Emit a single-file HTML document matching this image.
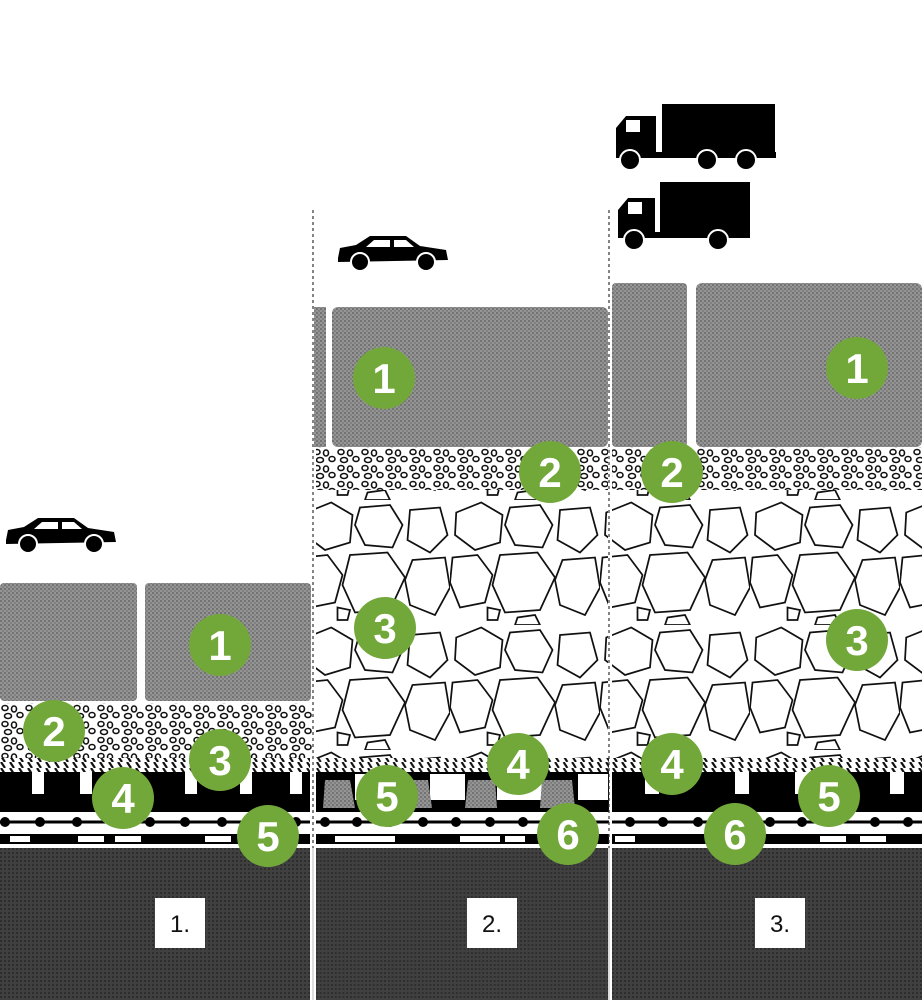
<!DOCTYPE html>
<html><head><meta charset="utf-8"><style>
body{margin:0;background:#fff;}
svg{display:block}
.n{font-family:"Liberation Sans",sans-serif;font-weight:bold}
.l{font-family:"Liberation Sans",sans-serif;font-weight:normal}
</style></head><body>
<svg width="922" height="1000" viewBox="0 0 922 1000" xmlns="http://www.w3.org/2000/svg">
<defs>
<pattern id="paver" width="4" height="4" patternUnits="userSpaceOnUse">
<rect width="4" height="4" fill="#959595"/><rect width="2" height="2" fill="#727272"/><rect x="2" y="2" width="2" height="2" fill="#808080"/>
</pattern>
<pattern id="dark" width="4" height="4" patternUnits="userSpaceOnUse">
<rect width="4" height="4" fill="#404040"/><rect width="2" height="2" fill="#2e2e2e"/>
</pattern>
<pattern id="fine" width="24" height="16" patternUnits="userSpaceOnUse">
<rect width="24" height="16" fill="#fff"/>
<g fill="none" stroke="#111" stroke-width="1.6">
<ellipse cx="5" cy="4" rx="3" ry="2.5"/><ellipse cx="14" cy="5" rx="2.5" ry="3"/><ellipse cx="20" cy="11" rx="3" ry="2.5"/><ellipse cx="8" cy="12" rx="3.5" ry="2.5"/>
</g></pattern>
<pattern id="stones" width="150" height="125" patternUnits="userSpaceOnUse">
<rect width="150" height="125" fill="#fff"/>
<g fill="none" stroke="#111" stroke-width="1.4" transform="scale(1.25)">
<polygon points="5,10 25,2 42,12 40,34 20,40 4,28"/>
<polygon points="48,6 72,4 82,20 74,38 52,36 44,20"/>
<polygon points="88,8 112,6 118,28 104,42 86,32"/>
<polygon points="2,46 22,44 34,60 28,82 8,86 0,66"/>
<polygon points="40,44 70,42 84,62 72,88 44,90 34,68"/>
<polygon points="90,48 116,46 120,70 108,92 88,84 84,64"/>
<polygon points="54,94 68,92 72,100 52,100"/>
<polygon points="30,86 40,88 38,96 30,96"/>
</g></pattern>
<pattern id="hatch" width="9" height="6" patternUnits="userSpaceOnUse">
<rect width="9" height="6" fill="#fff"/><line x1="1" y1="0" x2="5" y2="6" stroke="#111" stroke-width="2.2"/>
</pattern>
<g id="car"><path d="M0,22 L2,12 L18,9 L32,0 L68,0 L82,10 L108,14 L110,24 L0,26 Z" fill="#000"/>
<path d="M36,4 L52,4 L52,11 L28,11 Z M56,4 L68,4 L76,11 L56,11 Z" fill="#fff"/>
<circle cx="22" cy="26" r="9" fill="#000" stroke="#fff" stroke-width="2"/><circle cx="88" cy="26" r="9" fill="#000" stroke="#fff" stroke-width="2"/></g>
<g id="bottom">
<rect x="0" y="758" width="310" height="14" fill="url(#hatch)"/>
<rect x="0" y="772" width="310" height="40" fill="#000"/>
<rect x="0" y="812" width="310" height="36" fill="#fff"/>
<line x1="0" y1="822" x2="310" y2="822" stroke="#000" stroke-width="3"/>
<rect x="0" y="834" width="310" height="10" fill="#000"/>
<rect x="0" y="848" width="310" height="152" fill="url(#dark)"/>
</g>
<g id="g"><circle r="31" fill="#72a83a"/></g>
</defs>

<!-- Panel 1 -->
<rect x="0" y="583" width="137" height="118" rx="4" fill="url(#paver)"/>
<rect x="145" y="583" width="166" height="118" rx="4" fill="url(#paver)"/>
<rect x="0" y="703" width="312" height="56" fill="url(#fine)"/>
<use href="#bottom"/>
<g fill="#fff"><rect x="32" y="772" width="12" height="22"/><rect x="80" y="772" width="12" height="22"/><rect x="185" y="772" width="12" height="22"/><rect x="240" y="772" width="12" height="22"/><rect x="290" y="772" width="12" height="22"/>
<rect x="10" y="836" width="20" height="6"/><rect x="78" y="836" width="26" height="6"/><rect x="115" y="836" width="26" height="6"/><rect x="205" y="836" width="26" height="6"/></g>
<g fill="#000"><circle cx="5" cy="822" r="5"/><circle cx="40" cy="822" r="5"/><circle cx="77" cy="822" r="5"/><circle cx="114" cy="822" r="5"/><circle cx="150" cy="822" r="5"/><circle cx="185" cy="822" r="5"/><circle cx="222" cy="822" r="5"/><circle cx="260" cy="822" r="5"/><circle cx="296" cy="822" r="5"/></g>
<use href="#car" x="6" y="518"/>

<!-- Panel 2 -->
<rect x="314" y="307" width="12" height="140" fill="url(#paver)"/>
<rect x="332" y="307" width="276" height="140" rx="6" fill="url(#paver)"/>
<rect x="316" y="447" width="292" height="50" fill="url(#fine)"/>
<rect x="316" y="490" width="292" height="270" fill="url(#stones)"/>
<use href="#bottom" transform="translate(316,0) scale(0.945,1)"/>
<rect x="316" y="772" width="292" height="40" fill="#000"/>
<g fill="#fff"><rect x="355" y="774" width="50" height="26"/><rect x="430" y="774" width="35" height="26"/><rect x="497" y="774" width="45" height="26"/><rect x="578" y="774" width="30" height="26"/></g>
<g fill="url(#paver)"><polygon points="325,780 350,780 355,808 323,808"/><polygon points="405,780 428,780 432,808 410,808"/><polygon points="468,780 495,780 497,808 465,808"/><polygon points="542,780 572,780 575,808 540,808"/></g>
<g fill="#000"><circle cx="325" cy="822" r="5"/><circle cx="357" cy="822" r="5"/><circle cx="390" cy="822" r="5"/><circle cx="423" cy="822" r="5"/><circle cx="456" cy="822" r="5"/><circle cx="490" cy="822" r="5"/><circle cx="523" cy="822" r="5"/><circle cx="556" cy="822" r="5"/><circle cx="590" cy="822" r="5"/></g>
<g fill="#fff"><rect x="335" y="836" width="40" height="6"/><rect x="375" y="836" width="20" height="6"/><rect x="460" y="836" width="40" height="6"/><rect x="505" y="836" width="20" height="6"/></g>
<use href="#car" x="338" y="236"/>

<!-- Panel 3 -->
<rect x="612" y="283" width="75" height="164" rx="4" fill="url(#paver)"/>
<rect x="696" y="283" width="226" height="164" rx="6" fill="url(#paver)"/>
<rect x="612" y="447" width="310" height="50" fill="url(#fine)"/>
<rect x="612" y="490" width="310" height="270" fill="url(#stones)"/>
<use href="#bottom" transform="translate(612,0)"/>
<g fill="#fff"><rect x="645" y="772" width="14" height="22"/><rect x="735" y="772" width="14" height="22"/><rect x="795" y="772" width="14" height="22"/><rect x="890" y="772" width="14" height="22"/>
<rect x="615" y="836" width="20" height="6"/><rect x="820" y="836" width="26" height="6"/><rect x="860" y="836" width="26" height="6"/></g>
<g fill="#000"><circle cx="630" cy="822" r="5"/><circle cx="663" cy="822" r="5"/><circle cx="698" cy="822" r="5"/><circle cx="770" cy="822" r="5"/><circle cx="802" cy="822" r="5"/><circle cx="875" cy="822" r="5"/><circle cx="908" cy="822" r="5"/></g>
<!-- trucks -->
<g fill="#000">
<rect x="662" y="104" width="113" height="50"/><path d="M616,156 L616,128 L626,116 L656,116 L656,156 Z"/><rect x="616" y="152" width="160" height="6"/>
<circle cx="630" cy="160" r="10" stroke="#fff" stroke-width="2"/><circle cx="707" cy="160" r="10" stroke="#fff" stroke-width="2"/><circle cx="746" cy="160" r="10" stroke="#fff" stroke-width="2"/>
<rect x="660" y="182" width="90" height="52"/><path d="M618,236 L618,210 L628,198 L655,198 L655,236 Z"/><rect x="618" y="232" width="132" height="6"/>
<circle cx="634" cy="240" r="10" stroke="#fff" stroke-width="2"/><circle cx="718" cy="240" r="10" stroke="#fff" stroke-width="2"/>
</g>
<g fill="#fff"><rect x="626" y="120" width="14" height="12"/><rect x="628" y="202" width="14" height="12"/></g>

<!-- dashed separators -->
<g stroke="#333" stroke-width="1.2" stroke-dasharray="3,3"><line x1="313" y1="210" x2="313" y2="848"/><line x1="609" y1="210" x2="609" y2="848"/></g>
<g stroke="#ddd" stroke-width="2"><line x1="313" y1="848" x2="313" y2="1000"/><line x1="609" y1="848" x2="609" y2="1000"/></g>

<!-- labels -->
<g fill="#fff"><rect x="155" y="898" width="50" height="50"/><rect x="467" y="898" width="50" height="50"/><rect x="755" y="898" width="50" height="50"/></g>
<g class="l" font-size="24" fill="#111" text-anchor="middle"><text x="180" y="932">1.</text><text x="492" y="932">2.</text><text x="780" y="932">3.</text></g>

<g class="n" font-size="42" fill="#fff" text-anchor="middle">
<use href="#g" x="220" y="645"/><text x="220" y="660">1</text>
<use href="#g" x="54" y="731"/><text x="54" y="746">2</text>
<use href="#g" x="220" y="760"/><text x="220" y="775">3</text>
<use href="#g" x="123" y="798"/><text x="123" y="813">4</text>
<use href="#g" x="268" y="836"/><text x="268" y="851">5</text>
<use href="#g" x="384" y="378"/><text x="384" y="393">1</text>
<use href="#g" x="550" y="472"/><text x="550" y="487">2</text>
<use href="#g" x="385" y="628"/><text x="385" y="643">3</text>
<use href="#g" x="518" y="764"/><text x="518" y="779">4</text>
<use href="#g" x="387" y="796"/><text x="387" y="811">5</text>
<use href="#g" x="568" y="834"/><text x="568" y="849">6</text>
<use href="#g" x="857" y="368"/><text x="857" y="383">1</text>
<use href="#g" x="672" y="472"/><text x="672" y="487">2</text>
<use href="#g" x="857" y="640"/><text x="857" y="655">3</text>
<use href="#g" x="672" y="764"/><text x="672" y="779">4</text>
<use href="#g" x="829" y="796"/><text x="829" y="811">5</text>
<use href="#g" x="735" y="834"/><text x="735" y="849">6</text>
</g>
</svg>
</body></html>
